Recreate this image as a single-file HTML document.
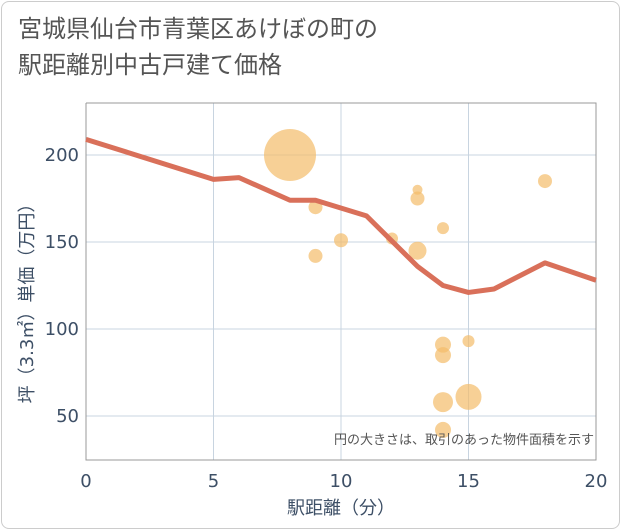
<!DOCTYPE html>
<html><head><meta charset="utf-8"><style>
body{margin:0;background:#fff;font-family:"DejaVu Sans","Noto Sans CJK JP",sans-serif}
.card{position:absolute;left:1px;top:1px;width:617px;height:526px;border:1px solid #ccc;border-radius:8px;background:#fff}
.title{position:absolute;left:18px;top:12px;font-size:24px;color:#555;line-height:36px;font-family:"Liberation Sans","Noto Sans CJK JP",sans-serif}
</style></head><body>
<div class="card"></div>
<div class="title">宮城県仙台市青葉区あけぼの町の<br>駅距離別中古戸建て価格</div>
<svg id="c" width="621" height="530" style="position:absolute;left:0;top:0"></svg>
<script>
const xTicks=[0,5,10,15,20];
const yTicks=[50,100,150,200];
const lineX=[0,5,6,8,9,11,13,14,15,16,18,20];
const lineY=[209,186,187,174,174,165,136,125,121,123,138,128];
const bubX=[8,9,9,10,12,13,13,13,14,14,14,14,14,15,15,18];
const bubY=[200,170,142,151,152,180,175,145,158,91,85,58,42,93,61,185];
const bubR=[26,7,7,7,6,5,7,9,6,8,8,10,8,6,13,7];
const L=86,R=596,T=103,B=460;
const sx=v=>L+(R-L)*v/20;
const sy=v=>155+(200-v)*1.74;
const s=document.getElementById('c');
const NS='http://www.w3.org/2000/svg';
const LC='#3d4f66';
function mk(t,a,txt){const e=document.createElementNS(NS,t);for(const k in a)e.setAttribute(k,a[k]);if(txt!==undefined)e.textContent=txt;s.appendChild(e);return e;}
xTicks.forEach(v=>{const e=mk('line',{x1:sx(v),x2:sx(v),y1:T,y2:B,stroke:'#c8d4e0','stroke-width':1});


const t=mk('text',{x:sx(v),y:487,'text-anchor':'middle','font-size':18,fill:LC},v);

});
yTicks.forEach(v=>{const e=mk('line',{x1:L,x2:R,y1:sy(v),y2:sy(v),stroke:'#c8d4e0','stroke-width':1});


const t=mk('text',{x:79,y:sy(v)+6,'text-anchor':'end','font-size':18,fill:LC},v);

});
const fr=mk('polyline',{points:`${L},${T} ${R},${T} ${R},${B} ${L},${B} ${L},${T}`,fill:'none',stroke:'#999','stroke-width':1});


bubX.forEach((v,i)=>{const c=mk('circle',{cx:sx(v),cy:sy(bubY[i]),r:bubR[i],fill:'#f3bc6a','fill-opacity':0.7});

});
const ln=mk('polyline',{points:lineX.map((v,i)=>sx(v)+','+sy(lineY[i])).join(' '),fill:'none',stroke:'#d9705a','stroke-width':5,'stroke-linejoin':'round'});


const n=mk('text',{x:594,y:444,'text-anchor':'end','font-size':13,fill:'#555'},'円の大きさは、取引のあった物件面積を示す');


const xt=mk('text',{x:341,y:514,'text-anchor':'middle','font-size':18,fill:LC},'駅距離（分）');


const yt=mk('text',{x:0,y:0,'text-anchor':'middle','font-size':18,fill:LC,transform:'translate(33,299) rotate(-90)'},'坪（3.3㎡）単価（万円）');


</script></body></html>
